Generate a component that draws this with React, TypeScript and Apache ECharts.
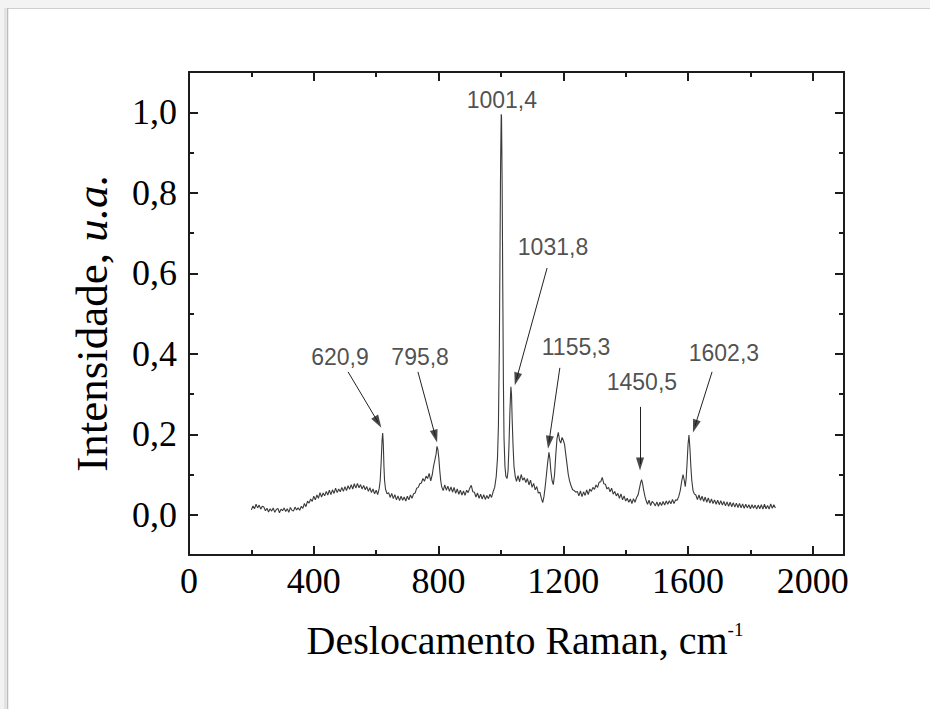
import React, { useEffect, useRef } from "react";
import * as echarts from "echarts";

// Raman spectrum: [wavenumber (cm-1), intensity (a.u.)]
const spectrum: [number, number][] = [
  [200, 0.012], [205, 0.022], [210, 0.015], [215, 0.026], [220, 0.017], [225, 0.024], [230, 0.014], [235, 0.021],
  [240, 0.019], [245, 0.010], [250, 0.016], [255, 0.007], [260, 0.015], [265, 0.009], [270, 0.017], [275, 0.006],
  [280, 0.013], [285, 0.016], [290, 0.005], [295, 0.014], [300, 0.010], [305, 0.017], [310, 0.008], [315, 0.015],
  [320, 0.006], [325, 0.018], [330, 0.011], [335, 0.009], [340, 0.019], [345, 0.012], [350, 0.017], [355, 0.011],
  [360, 0.021], [365, 0.016], [370, 0.028], [375, 0.020], [380, 0.034], [385, 0.029], [390, 0.039], [395, 0.033],
  [400, 0.046], [405, 0.037], [410, 0.049], [415, 0.041], [420, 0.055], [425, 0.044], [430, 0.054], [435, 0.047],
  [440, 0.058], [445, 0.049], [450, 0.061], [455, 0.050], [460, 0.062], [465, 0.053], [470, 0.066], [475, 0.055],
  [480, 0.064], [485, 0.057], [490, 0.068], [495, 0.058], [500, 0.070], [505, 0.060], [510, 0.072], [515, 0.063],
  [520, 0.075], [525, 0.064], [530, 0.077], [535, 0.066], [540, 0.078], [545, 0.067], [550, 0.075], [555, 0.064],
  [560, 0.073], [565, 0.062], [570, 0.070], [575, 0.058], [580, 0.067], [585, 0.055], [590, 0.064], [595, 0.052],
  [600, 0.061], [605, 0.050], [610, 0.066], [613, 0.085], [616, 0.130], [619, 0.185], [621, 0.203], [623, 0.175],
  [625, 0.120], [627, 0.085], [630, 0.064], [635, 0.052], [640, 0.055], [645, 0.043], [650, 0.053], [655, 0.040],
  [660, 0.050], [665, 0.037], [670, 0.047], [675, 0.035], [680, 0.046], [685, 0.036], [690, 0.044], [695, 0.034],
  [700, 0.046], [705, 0.037], [710, 0.049], [715, 0.041], [720, 0.052], [725, 0.054], [730, 0.066], [735, 0.068],
  [740, 0.077], [745, 0.079], [750, 0.090], [755, 0.083], [760, 0.096], [765, 0.090], [770, 0.103], [775, 0.084],
  [780, 0.100], [784, 0.120], [788, 0.135], [792, 0.150], [795, 0.170], [798, 0.162], [801, 0.140], [804, 0.110],
  [807, 0.085], [810, 0.070], [815, 0.060], [820, 0.074], [825, 0.061], [830, 0.071], [835, 0.058], [840, 0.069],
  [845, 0.056], [850, 0.068], [855, 0.053], [860, 0.064], [865, 0.051], [870, 0.061], [875, 0.049], [880, 0.059],
  [885, 0.048], [890, 0.061], [895, 0.055], [900, 0.066], [905, 0.073], [910, 0.057], [915, 0.056], [920, 0.044],
  [925, 0.054], [930, 0.041], [935, 0.051], [940, 0.039], [945, 0.050], [950, 0.038], [955, 0.048], [960, 0.040],
  [965, 0.051], [970, 0.043], [975, 0.057], [980, 0.068], [985, 0.095], [989, 0.140], [992, 0.220], [995, 0.420],
  [997, 0.640], [999, 0.870], [1001, 0.995], [1002, 0.990], [1004, 0.820], [1006, 0.560], [1008, 0.330], [1010, 0.190],
  [1013, 0.120], [1016, 0.095], [1020, 0.090], [1023, 0.110], [1026, 0.175], [1029, 0.260], [1032, 0.318], [1034, 0.300],
  [1036, 0.240], [1039, 0.170], [1042, 0.120], [1046, 0.095], [1050, 0.083], [1055, 0.097], [1060, 0.082], [1065, 0.100],
  [1070, 0.086], [1075, 0.092], [1080, 0.080], [1085, 0.090], [1090, 0.074], [1095, 0.086], [1100, 0.068], [1105, 0.078],
  [1110, 0.062], [1115, 0.070], [1120, 0.054], [1125, 0.056], [1130, 0.040], [1134, 0.030], [1138, 0.045], [1142, 0.070],
  [1146, 0.100], [1150, 0.130], [1154, 0.155], [1157, 0.140], [1160, 0.110], [1164, 0.085], [1168, 0.075], [1172, 0.100],
  [1176, 0.150], [1180, 0.190], [1184, 0.205], [1188, 0.185], [1192, 0.178], [1196, 0.192], [1200, 0.185], [1204, 0.175],
  [1208, 0.150], [1212, 0.125], [1216, 0.100], [1220, 0.085], [1225, 0.072], [1230, 0.062], [1235, 0.060], [1240, 0.056],
  [1245, 0.058], [1250, 0.047], [1255, 0.059], [1260, 0.045], [1265, 0.057], [1270, 0.048], [1275, 0.062], [1280, 0.050],
  [1285, 0.064], [1290, 0.058], [1295, 0.068], [1300, 0.063], [1305, 0.074], [1310, 0.068], [1315, 0.081], [1320, 0.082],
  [1325, 0.093], [1330, 0.077], [1335, 0.076], [1340, 0.064], [1345, 0.068], [1350, 0.057], [1355, 0.066], [1360, 0.051],
  [1365, 0.058], [1370, 0.047], [1375, 0.053], [1380, 0.041], [1385, 0.052], [1390, 0.037], [1395, 0.047], [1400, 0.034],
  [1405, 0.041], [1410, 0.031], [1415, 0.039], [1420, 0.028], [1425, 0.040], [1430, 0.031], [1435, 0.043], [1440, 0.050],
  [1444, 0.065], [1448, 0.080], [1451, 0.087], [1454, 0.078], [1458, 0.060], [1462, 0.045], [1466, 0.034], [1470, 0.026],
  [1475, 0.036], [1480, 0.023], [1485, 0.033], [1490, 0.029], [1495, 0.022], [1500, 0.032], [1505, 0.021], [1510, 0.031],
  [1515, 0.023], [1520, 0.033], [1525, 0.024], [1530, 0.034], [1535, 0.026], [1540, 0.035], [1545, 0.027], [1550, 0.038],
  [1555, 0.028], [1560, 0.037], [1565, 0.036], [1570, 0.045], [1575, 0.060], [1580, 0.085], [1584, 0.100], [1588, 0.085],
  [1591, 0.070], [1594, 0.090], [1597, 0.130], [1600, 0.175], [1603, 0.198], [1606, 0.165], [1609, 0.120], [1612, 0.085],
  [1616, 0.060], [1620, 0.052], [1625, 0.049], [1630, 0.038], [1635, 0.049], [1640, 0.036], [1645, 0.046], [1650, 0.033],
  [1655, 0.044], [1660, 0.031], [1665, 0.042], [1670, 0.029], [1675, 0.039], [1680, 0.028], [1685, 0.037], [1690, 0.026],
  [1695, 0.036], [1700, 0.025], [1705, 0.035], [1710, 0.024], [1715, 0.033], [1720, 0.022], [1725, 0.032], [1730, 0.021],
  [1735, 0.031], [1740, 0.020], [1745, 0.030], [1750, 0.019], [1755, 0.029], [1760, 0.018], [1765, 0.028], [1770, 0.017],
  [1775, 0.027], [1780, 0.016], [1785, 0.026], [1790, 0.017], [1795, 0.025], [1800, 0.015], [1805, 0.025], [1810, 0.016],
  [1815, 0.024], [1820, 0.014], [1825, 0.024], [1830, 0.015], [1835, 0.025], [1840, 0.014], [1845, 0.026], [1850, 0.015],
  [1855, 0.023], [1860, 0.014], [1865, 0.027], [1870, 0.016], [1875, 0.025], [1880, 0.017],
];

// Axis ranges and ticks
const xRange = [0, 2100];
const yRange = [-0.1, 1.1];
const xMajorTicks = [0, 400, 800, 1200, 1600, 2000];
const xMinorTicks = [200, 600, 1000, 1400, 1800];
const yMajorTicks = [0, 0.2, 0.4, 0.6, 0.8, 1.0];
const yMinorTicks = [0.1, 0.3, 0.5, 0.7, 0.9];

// Peak annotations
const peakLabels = ["620,9", "795,8", "1001,4", "1031,8", "1155,3", "1450,5", "1602,3"];
const peakLabelAt: [number, number][] = [
  [484, 0.392], [741, 0.392], [1003, 1.03], [1167, 0.665], [1241, 0.417], [1452, 0.33], [1715, 0.402],
];
const arrowFrom: [number, number][] = [
  [510, 0.355], [734, 0.355], [1148, 0.613], [1189, 0.365], [1446, 0.268], [1677, 0.355],
];
const arrowTo: [number, number][] = [
  [606, 0.230], [790, 0.195], [1050, 0.337], [1154, 0.180], [1446, 0.126], [1622, 0.220],
];

const xTitle = "Deslocamento Raman, cm";
const xTitleSup = "-1";
const yTitle = "Intensidade, ";
const yTitleItalic = "u.a.";

const SERIF = "'Liberation Serif', 'Times New Roman', serif";
const SANS = "'Liberation Sans', Arial, sans-serif";
const AXIS_COLOR = "#1c1c1c";

const fmt = (v: number) => v.toFixed(1).replace(".", ",");

export default function App() {
  const ref = useRef<HTMLDivElement>(null);
  useEffect(() => {
    if (!ref.current) return;
    const chart = echarts.init(ref.current, undefined, { renderer: "svg" });

    const baseX = (position: "bottom" | "top", ticks: number[], len: number, showLine: boolean, labels: boolean) => ({
      type: "value",
      position,
      min: xRange[0],
      max: xRange[1],
      axisLine: { show: showLine, onZero: false, lineStyle: { color: AXIS_COLOR, width: 2 } },
      axisTick: { show: true, inside: true, length: len, customValues: ticks, lineStyle: { color: AXIS_COLOR, width: 2 } },
      axisLabel: labels
        ? { show: true, customValues: ticks, fontFamily: SERIF, fontSize: 36, color: "#000", margin: 8, formatter: (v: number) => String(v) }
        : { show: false },
      splitLine: { show: false },
    });
    const baseY = (position: "left" | "right", ticks: number[], len: number, showLine: boolean, labels: boolean) => ({
      type: "value",
      position,
      min: yRange[0],
      max: yRange[1],
      axisLine: { show: showLine, onZero: false, lineStyle: { color: AXIS_COLOR, width: 2 } },
      axisTick: { show: true, inside: true, length: len, customValues: ticks, lineStyle: { color: AXIS_COLOR, width: 2 } },
      axisLabel: labels
        ? { show: true, customValues: ticks, fontFamily: SERIF, fontSize: 36, color: "#000", margin: 12, formatter: fmt }
        : { show: false },
      splitLine: { show: false },
    });

    const buildOption = (headRotations: number[]): any => ({
      animation: false,
      backgroundColor: "#ffffff",
      graphic: [
        { type: "rect", z: -10, shape: { x: 0, y: 0, width: 930, height: 8 }, style: { fill: "#f3f3f3" } },
        { type: "rect", z: -10, shape: { x: 0, y: 0, width: 7, height: 709 }, style: { fill: "#f3f3f3" } },
        { type: "line", z: -9, shape: { x1: 7, y1: 8.5, x2: 930, y2: 8.5 }, style: { stroke: "#cfcfcf", lineWidth: 1 } },
        { type: "line", z: -9, shape: { x1: 7.5, y1: 8, x2: 7.5, y2: 709 }, style: { stroke: "#bdbdbd", lineWidth: 1.5 } },
        { type: "line", z: -9, shape: { x1: 5, y1: 8, x2: 5, y2: 709 }, style: { stroke: "#e2e2e2", lineWidth: 2 } },
        {
          type: "text",
          x: 525,
          y: 640,
          style: {
            text: `{n|${xTitle}}{s|${xTitleSup}}`,
            align: "center",
            verticalAlign: "middle",
            fill: "#000",
            rich: {
              n: { fontFamily: SERIF, fontSize: 40, fill: "#000" },
              s: { fontFamily: SERIF, fontSize: 19, fill: "#000", verticalAlign: "top" },
            },
          },
        },
        {
          type: "text",
          x: 92,
          y: 323,
          rotation: Math.PI / 2,
          style: {
            text: `{n|${yTitle}}{i|${yTitleItalic}}`,
            align: "center",
            verticalAlign: "middle",
            fill: "#000",
            rich: {
              n: { fontFamily: SERIF, fontSize: 45, fill: "#000" },
              i: { fontFamily: SERIF, fontSize: 45, fontStyle: "italic", fill: "#000" },
            },
          },
        },
      ],
      grid: { left: 189, top: 72, width: 655, height: 483, containLabel: false },
      xAxis: [
        baseX("bottom", xMajorTicks, 9, true, true),
        baseX("bottom", xMinorTicks, 5, false, false),
        baseX("top", xMajorTicks, 9, true, false),
        baseX("top", xMinorTicks, 5, false, false),
      ],
      yAxis: [
        baseY("left", yMajorTicks, 9, true, true),
        baseY("left", yMinorTicks, 5, false, false),
        baseY("right", yMajorTicks, 9, true, false),
        baseY("right", yMinorTicks, 5, false, false),
      ],
      series: [
        {
          type: "line",
          xAxisIndex: 0,
          yAxisIndex: 0,
          data: spectrum,
          showSymbol: false,
          symbol: "none",
          lineStyle: { color: "#3a3a3a", width: 1.1 },
          z: 3,
          silent: true,
        },
        {
          type: "scatter",
          xAxisIndex: 0,
          yAxisIndex: 0,
          symbolSize: 0,
          silent: true,
          data: peakLabels.map((name, i) => ({ name, value: peakLabelAt[i] })),
          label: {
            show: true,
            position: "inside",
            formatter: (p: any) => p.name,
            fontFamily: SANS,
            fontSize: 23,
            color: "#222",
          },
          markLine: {
            silent: true,
            symbol: ["none", "none"],
            label: { show: false },
            lineStyle: { color: "#222", width: 1, type: "solid" },
            emphasis: { disabled: true },
            data: arrowFrom.map((f, i) => [{ coord: f }, { coord: arrowTo[i] }]),
          },
          z: 4,
        },
        {
          type: "scatter",
          xAxisIndex: 0,
          yAxisIndex: 0,
          silent: true,
          symbol: "triangle",
          symbolSize: [8, 13],
          itemStyle: { color: "#1a1a1a" },
          data: arrowTo.map((t, i) => ({ value: t, symbolRotate: headRotations[i] ?? 180 })),
          z: 5,
        },
      ],
    });

    chart.setOption(buildOption([]));
    // arrowhead orientation from the library's own pixel mapping
    const rotations = arrowFrom.map((f, i) => {
      const a = chart.convertToPixel({ gridIndex: 0 }, f) as number[];
      const b = chart.convertToPixel({ gridIndex: 0 }, arrowTo[i]) as number[];
      const ux = b[0] - a[0];
      const uy = b[1] - a[1];
      return (Math.atan2(-ux, -uy) * 180) / Math.PI;
    });
    chart.setOption(buildOption(rotations));
    return () => chart.dispose();
  }, []);
  return <div ref={ref} style={{ position: "fixed", left: 0, top: 0, width: 930, height: 709 }} />;
}
